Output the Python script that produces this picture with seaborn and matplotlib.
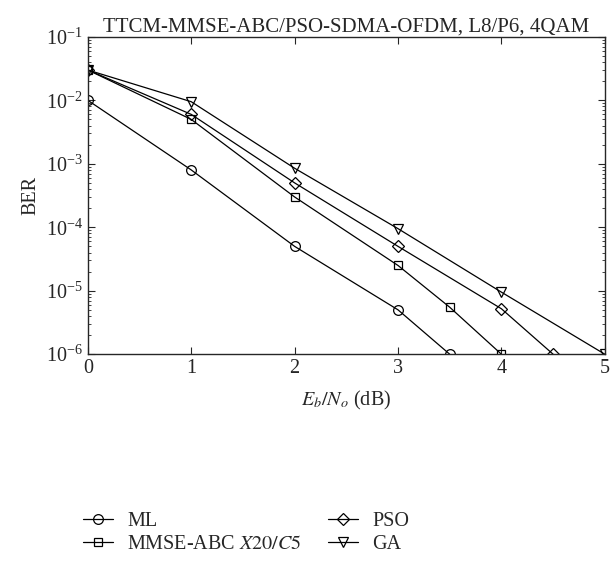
import pandas as pd
import matplotlib.pyplot as plt
import seaborn as sns
from matplotlib.ticker import LogLocator, NullFormatter

# Данные
ml_x = [0, 1, 2, 3, 3.5]
ml_ber = [1e-2, 8e-4, 5e-5, 5e-6, 1e-6]

abc_x = [0, 1, 2, 3, 3.5, 4]
abc_ber = [3e-2, 5e-3, 3e-4, 2.5e-5, 5.5e-6, 1e-6]

pso_x = [0, 1, 2, 3, 4, 4.5]
pso_ber = [3e-2, 6e-3, 5e-4, 5e-5, 5.2e-6, 1e-6]

ga_x = [0, 1, 2, 3, 4, 5]
ga_ber = [3e-2, 9.5e-3, 8.5e-4, 9.5e-5, 9.5e-6, 1e-6]

labels = ['ML', 'MMSE-ABC $X20/C5$', 'PSO', 'GA']

df = pd.concat([
    pd.DataFrame({'snr': ml_x, 'ber': ml_ber, 'scheme': labels[0]}),
    pd.DataFrame({'snr': abc_x, 'ber': abc_ber, 'scheme': labels[1]}),
    pd.DataFrame({'snr': pso_x, 'ber': pso_ber, 'scheme': labels[2]}),
    pd.DataFrame({'snr': ga_x, 'ber': ga_ber, 'scheme': labels[3]}),
], ignore_index=True)

sns.set_style('ticks')
plt.rcParams['font.family'] = ['Liberation Serif', 'DejaVu Serif']
plt.rcParams['mathtext.fontset'] = 'stix'

fig = plt.figure(figsize=(6.14, 5.75), dpi=100)
ax = fig.add_axes([0.143, 0.384, 0.842, 0.552])

sns.lineplot(
    data=df, x='snr', y='ber', hue='scheme', style='scheme',
    hue_order=labels, style_order=labels,
    palette=['black'] * 4, dashes=False,
    markers={labels[0]: 'o', labels[1]: 's', labels[2]: 'D', labels[3]: 'v'},
    markersize=7, linewidth=0.9, ax=ax,
)
sizes = {'o': 7, 's': 5.5, 'D': 6, 'v': 7.5}
for line in ax.get_lines():
    line.set_markerfacecolor('none')
    line.set_markeredgecolor('black')
    line.set_markeredgewidth(0.9)
    if line.get_marker() in sizes:
        line.set_markersize(sizes[line.get_marker()])

ax.set_yscale('log')
ax.set_xlim(0, 5)
ax.set_ylim(1e-6, 1e-1)
ax.set_xticks([0, 1, 2, 3, 4, 5])
ax.yaxis.set_minor_locator(LogLocator(base=10, subs=range(2, 10)))
ax.yaxis.set_minor_formatter(NullFormatter())
ax.tick_params(which='both', direction='in', top=True, right=True, labelsize=14.5)
ax.tick_params(which='major', length=5)
ax.tick_params(which='minor', length=2.5)
for s in ax.spines.values():
    s.set_linewidth(1.0)

ax.set_title('TTCM-MMSE-ABC/PSO-SDMA-OFDM, L8/P6, 4QAM', fontsize=15, pad=3)
ax.set_xlabel('$E_b/N_o$ (dB)', fontsize=14.5, labelpad=8)
ax.set_ylabel('BER', fontsize=14.5)

handles, leg_labels = ax.get_legend_handles_labels()
for h in handles:
    h.set_markerfacecolor('none')
    h.set_markeredgecolor('black')
ax.legend(handles, leg_labels, loc='upper left', bbox_to_anchor=(-0.045, -0.44),
          ncol=2, frameon=False, fontsize=14.5, columnspacing=1.3,
          handlelength=1.5, handletextpad=0.7, labelspacing=0.2)

fig.savefig('out.png', dpi=100)
